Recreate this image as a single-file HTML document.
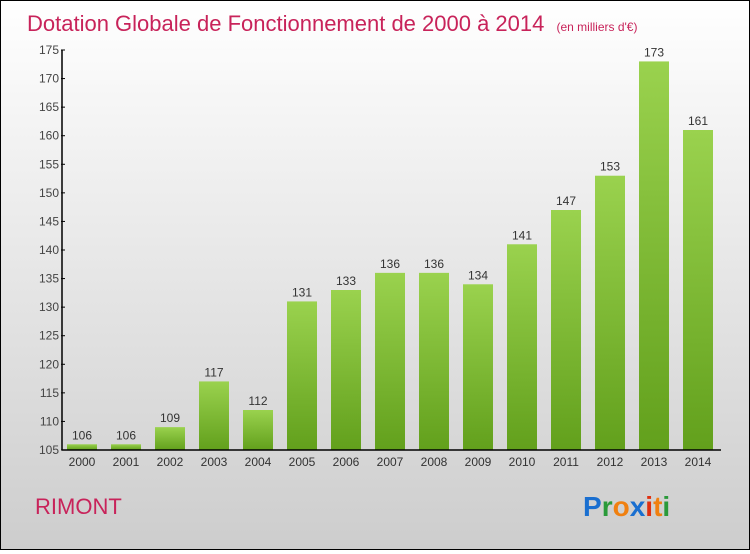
<!DOCTYPE html>
<html><head><meta charset="utf-8"><style>
body{margin:0;width:750px;height:550px;overflow:hidden;font-family:"Liberation Sans",sans-serif}
#c{position:absolute;left:0;top:0;width:748px;height:548px;border:1px solid #000;background:linear-gradient(#ffffff,#cdcdcd)}
</style></head><body>
<div id="c">
<svg id="s" width="748" height="548" xmlns="http://www.w3.org/2000/svg">
<defs><linearGradient id="g" x1="0" y1="0" x2="0" y2="1"><stop offset="0" stop-color="#9ad24e"/><stop offset="1" stop-color="#62a01c"/></linearGradient></defs>
<text x="26" y="30" font-size="22" fill="#c8235a">Dotation Globale de Fonctionnement de 2000 à 2014 <tspan font-size="12" dx="6">(en milliers d'€)</tspan></text>
<text x="34" y="513" font-size="22" fill="#c8235a">RIMONT</text>
<g font-size="28" font-weight="bold" font-family="'Liberation Sans',sans-serif">
<text x="582" y="515"><tspan fill="#1a6fd0">P</tspan><tspan fill="#2a9a3a">r</tspan><tspan fill="#f08010">o</tspan><tspan fill="#1a6fd0">x</tspan><tspan fill="#e03010">i</tspan><tspan fill="#f08010">t</tspan><tspan fill="#2a9a3a">i</tspan></text></g>
<g id="plot"></g>
</svg></div>
<script>
const years=["2000","2001","2002","2003","2004","2005","2006","2007","2008","2009","2010","2011","2012","2013","2014"];
const values=[106,106,109,117,112,131,133,136,136,134,141,147,153,173,161];
const ticks=[105,110,115,120,125,130,135,140,145,150,155,160,165,170,175];
const ns="http://www.w3.org/2000/svg",p=document.getElementById('plot');
const y0=449,yMin=105,yMax=175,ppu=400/70;
const y=v=>y0-(v-yMin)*ppu, x=i=>81+i*44;
function mk(t,a,txt){const e=document.createElementNS(ns,t);for(const k in a)e.setAttribute(k,a[k]);if(txt!=null)e.textContent=txt;p.appendChild(e);return e;}
values.forEach((v,i)=>{
 const r=mk('rect',{x:x(i)-15,y:y(v),width:30,height:y0-y(v),fill:'url(#g)'});
 
 
 const l=mk('text',{x:x(i),y:y(v)-5,'font-size':12,'text-anchor':'middle',fill:'#333'},String(v));
 
 
 const t=mk('text',{x:x(i),y:y0+16,'font-size':12,'text-anchor':'middle',fill:'#333'},years[i]);
 
 
});
ticks.forEach(v=>{
 mk('line',{x1:60,x2:64,y1:y(v),y2:y(v),stroke:'#000'});
 const t=mk('text',{x:58,y:y(v)+4,'font-size':12,'text-anchor':'end',fill:'#444'},String(v));
 
 
});
const ax=mk('line',{x1:61,x2:61,y1:y(yMax),y2:y0,stroke:'#000','stroke-width':1.5});


const bx=mk('line',{x1:61,x2:720,y1:y0,y2:y0,stroke:'#000','stroke-width':1.5});


</script>
</body></html>
